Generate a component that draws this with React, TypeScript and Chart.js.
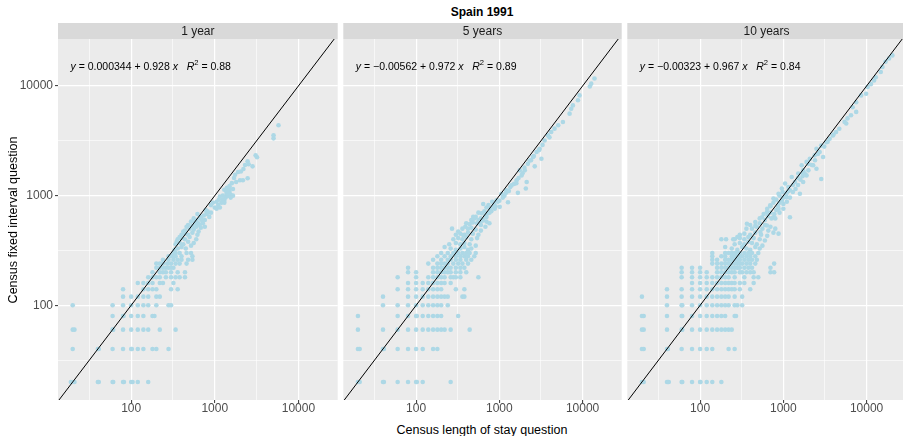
import React, { useEffect, useRef } from 'react';
import { Chart, registerables } from 'chart.js';

Chart.register(...registerables);

// ---------------- data ----------------
const PANEL_TITLES = ['1 year', '5 years', '10 years'];
const EQ_INTERCEPTS = ['0.000344', '\u22120.00562', '\u22120.00323'];
const EQ_SLOPES = ['0.928', '0.972', '0.967'];
const EQ_R2 = ['0.88', '0.89', '0.84'];

const MAJOR_TICKS = [100, 1000, 10000];
const MINOR_TICKS = [31.62, 316.2, 3162];
const X_RANGE = [13.34, 29500];
const Y_RANGE = [13.7, 26800];
const ABLINE = [10, 100000];

// rows: [y, xs at that y]
const ROWS_1Y: [number, number[]][] = [
  [20, [19, 20, 21, 40, 41, 60, 61, 80, 82, 100, 104, 120, 160]],
  [40, [20, 40, 41, 60, 80, 100, 102, 120, 140, 180, 200, 280]],
  [60, [20, 21, 60, 61, 80, 100, 120, 140, 160, 220, 340]],
  [80, [60, 80, 81, 100, 120, 140, 180, 190]],
  [100, [20, 60, 80, 100, 120, 140, 160, 200, 280, 300]],
  [120, [80, 100, 120, 140, 160, 200, 220]],
  [140, [80, 140, 160, 180, 200, 300, 360]],
  [160, [120, 140, 160, 180, 220, 240, 320]],
  [180, [160, 180, 200, 220, 260, 300, 340, 380, 440]],
  [200, [180, 220, 240, 260, 300, 360, 440]],
  [220, [200, 220, 240, 260, 280, 300, 320]],
  [240, [200, 220, 240, 270, 300, 340, 380, 460]],
  [260, [240, 280, 320, 360, 400, 480, 540]],
  [280, [280, 300, 320, 340, 400, 540]],
  [300, [320, 340, 380, 460, 520]],
];
const CLOUD_1Y: [number, number][] = [
  [330, 320], [360, 330], [400, 340], [450, 330], [520, 350], [340, 360], [380, 370], [420, 360],
  [480, 380], [560, 370], [360, 400], [400, 410], [440, 400], [500, 420], [600, 400], [400, 440],
  [440, 450], [480, 440], [540, 460], [620, 440], [440, 480], [500, 500], [560, 490], [640, 470],
  [480, 540], [540, 530], [600, 520], [680, 510], [520, 580], [580, 570], [640, 560], [720, 560],
  [600, 600], [660, 620], [760, 600], [690, 640], [800, 700], [800, 680], [1000, 780], [1050, 760],
  [900, 700], [1100, 820], [1200, 860], [1150, 780], [1300, 900], [1350, 960], [1400, 1010], [1250, 920],
  [1500, 1080], [1300, 1130], [1550, 1020], [1400, 1180], [1380, 1060], [1500, 1220], [1500, 1150],
  [1600, 1300], [1650, 1150], [1800, 1330], [1900, 1640], [2050, 1660], [2000, 1380], [2170, 1380],
  [2470, 1440], [2470, 2060], [2540, 1930], [2830, 1850], [3080, 2330], [3200, 2240], [5040, 3550],
  [5040, 3330], [5780, 4380], [620, 680], [780, 740], [900, 820], [1050, 880], [1150, 980], [700, 600],
  [740, 660], [820, 720], [560, 620], [460, 520], [420, 470], [380, 420], [350, 380], [600, 560],
  [660, 540], [760, 520], [860, 640], [1300, 860], [1550, 960], [1650, 1000], [1120, 920], [1250, 1000],
  [1450, 1000], [1400, 1100], [1700, 1450], [1750, 1550], [2300, 1900], [2200, 1750], [950, 860],
];

const ROWS_5Y: [number, number[]][] = [
  [20, [20, 21, 40, 41, 60, 80, 100, 102, 120, 260]],
  [40, [20, 21, 40, 41, 60, 80, 100, 120, 160, 180]],
  [60, [20, 40, 60, 80, 100, 120, 140, 160, 180, 200, 220, 260, 440]],
  [80, [20, 60, 80, 100, 102, 120, 140, 160, 180, 200, 320]],
  [100, [40, 60, 80, 100, 120, 140, 160, 180, 200, 240]],
  [120, [40, 80, 100, 120, 140, 160, 180, 200, 220, 240, 360, 380]],
  [140, [60, 80, 100, 120, 140, 160, 180, 200, 300, 380]],
  [160, [80, 100, 120, 140, 160, 180, 200, 220, 260]],
  [180, [60, 100, 140, 160, 180, 200, 220, 260, 280, 300, 340, 560]],
  [200, [80, 100, 160, 180, 200, 220, 240, 260, 300, 340, 400]],
  [220, [80, 160, 180, 200, 220, 240, 260, 300, 340, 380]],
  [240, [140, 180, 200, 220, 240, 280, 320, 360, 420]],
  [260, [160, 200, 240, 260, 300, 340, 400, 460]],
  [280, [180, 220, 260, 300, 340, 380, 420, 500]],
  [300, [200, 240, 280, 300, 320, 360, 400, 440, 520]],
];
const CLOUD_5Y: [number, number][] = [
  [220, 340], [260, 330], [300, 320], [340, 330], [380, 340], [420, 320], [460, 330], [250, 360],
  [300, 370], [340, 360], [380, 370], [440, 360], [520, 350], [280, 400], [320, 410], [360, 400],
  [400, 420], [460, 400], [540, 410], [300, 440], [340, 450], [380, 440], [420, 460], [480, 450],
  [560, 440], [270, 500], [320, 470], [370, 435], [390, 520], [360, 500], [420, 500], [460, 510],
  [520, 490], [600, 480], [400, 560], [440, 550], [480, 570], [540, 560], [600, 540], [680, 520],
  [460, 600], [500, 620], [560, 600], [620, 590], [700, 580], [760, 560], [485, 640], [610, 690],
  [730, 690], [640, 840], [840, 790], [1010, 790], [925, 905], [1270, 870], [1060, 1040], [1670, 1060],
  [1220, 1120], [2080, 1160], [1400, 1240], [2130, 1330], [1610, 1380], [1850, 1530], [1760, 1700],
  [2020, 1700], [2660, 1850], [2310, 2090], [3200, 2170], [2540, 2250], [2800, 2500], [3050, 2680],
  [3500, 3180], [3840, 3540], [4200, 3800], [4600, 4080], [5100, 4380], [5800, 4690], [6980, 5590],
  [7300, 6200], [7650, 6650], [8800, 7400], [9200, 8200], [12200, 9900], [12700, 10500], [13900, 11700],
  [520, 640], [560, 700], [600, 620], [660, 720], [700, 780], [740, 820], [780, 760], [820, 880],
  [860, 840], [900, 800], [960, 880], [680, 660], [760, 700], [580, 560], [640, 600], [700, 640],
  [800, 720], [880, 760], [1000, 900], [1100, 960], [1150, 1000], [1200, 1060], [1300, 1100],
  [1350, 1200], [1500, 1280], [1600, 1300], [1700, 1450], [1900, 1600], [2000, 1800], [2200, 1950],
  [2400, 2100], [2600, 2300], [3000, 2600], [3300, 2900], [4000, 3400],
];

const ROWS_10Y: [number, number[]][] = [
  [20, [20, 21, 40, 41, 42, 60, 61, 80, 100, 101, 120, 140, 180]],
  [40, [20, 21, 40, 41, 60, 80, 100, 120, 140, 220, 260]],
  [60, [20, 21, 40, 60, 61, 80, 100, 120, 140, 160, 180, 200, 220, 240]],
  [80, [20, 21, 40, 60, 61, 80, 100, 120, 140, 160, 180, 200, 260, 270]],
  [100, [40, 60, 61, 80, 100, 120, 140, 160, 180, 200, 220, 260, 280, 320]],
  [120, [20, 40, 60, 80, 100, 120, 140, 160, 180, 200, 220, 260, 320]],
  [140, [40, 60, 80, 100, 120, 140, 160, 180, 200, 220, 240, 260, 300, 400]],
  [160, [80, 100, 120, 140, 160, 180, 200, 220, 240, 260, 300, 340, 440]],
  [180, [60, 80, 100, 120, 140, 160, 180, 200, 220, 260, 340, 440, 500]],
  [200, [60, 80, 100, 120, 160, 180, 200, 220, 240, 260, 300, 320, 360, 400, 440, 700, 775]],
  [220, [60, 80, 100, 160, 180, 200, 220, 240, 260, 280, 300, 340, 380, 420, 700]],
  [240, [140, 160, 180, 200, 220, 240, 260, 280, 300, 320, 360, 400, 460, 775]],
  [260, [140, 160, 200, 220, 240, 260, 280, 300, 340, 380, 420, 480]],
  [280, [140, 180, 200, 240, 260, 280, 300, 320, 360, 400, 460]],
  [300, [140, 200, 220, 240, 260, 280, 300, 340, 380, 420, 500]],
];
const CLOUD_10Y: [number, number][] = [
  [200, 340], [240, 330], [280, 320], [320, 340], [360, 330], [400, 320], [460, 340], [520, 330],
  [180, 400], [205, 400], [260, 360], [300, 370], [340, 360], [380, 380], [420, 370], [480, 360],
  [560, 350], [260, 400], [300, 410], [340, 400], [380, 420], [440, 410], [520, 400], [600, 390],
  [300, 440], [340, 450], [400, 440], [460, 460], [540, 440], [640, 430], [280, 420], [250, 400],
  [365, 555], [460, 575], [530, 465], [360, 500], [420, 500], [480, 520], [560, 500], [660, 480],
  [760, 460], [875, 450], [400, 540], [460, 530], [520, 560], [600, 540], [700, 520], [800, 500],
  [555, 635], [635, 710], [635, 535], [760, 635], [1200, 635], [695, 815], [760, 940], [875, 760],
  [875, 1040], [1000, 840], [1090, 970], [960, 1160], [1050, 1290], [1200, 1120], [1580, 1040],
  [1260, 1480], [1380, 1330], [1730, 1330], [1510, 1590], [1900, 1530], [2850, 1420], [1660, 1890],
  [1730, 1700], [2500, 1760], [1900, 2030], [2280, 1890], [2080, 2170], [2380, 2330], [3000, 2250],
  [2730, 2500], [2500, 2680], [2850, 2860], [3300, 3070], [3600, 3300], [3930, 3540], [4300, 3800],
  [4700, 4070], [5700, 4540], [5440, 4700], [5900, 5060], [6500, 5400], [7500, 5800], [6800, 6400],
  [7500, 7100], [8600, 8200], [9870, 8500], [10300, 9800], [11300, 10400], [12300, 11200],
  [12900, 12000], [14800, 13400], [15500, 14900], [16900, 16600], [18600, 17800], [20400, 19000],
  [600, 600], [650, 650], [700, 700], [720, 620], [780, 680], [820, 740], [860, 800], [900, 860],
  [960, 900], [1000, 960], [1060, 1000], [1100, 1060], [1150, 1100], [800, 620], [900, 700],
  [1000, 760], [1100, 880], [1200, 960], [1300, 1080], [1400, 1150], [1500, 1250], [1600, 1400],
  [1700, 1500], [1800, 1600], [2000, 1700], [2200, 1900], [2400, 2100], [1300, 1250], [1150, 1200],
  [520, 620], [580, 680], [640, 760], [700, 800], [760, 860], [820, 920], [900, 1000], [980, 1080],
  [1500, 1450], [1700, 1600], [2000, 1950], [2600, 2400], [3100, 2800], [3400, 3100], [4000, 3600],
];

const PANEL_ROWS = [ROWS_1Y, ROWS_5Y, ROWS_10Y];
const PANEL_CLOUDS = [CLOUD_1Y, CLOUD_5Y, CLOUD_10Y];

// ---------------- layout / style ----------------
const FONT = '"Liberation Sans", Arial, Helvetica, sans-serif';
const PANEL_LEFT = [58, 342, 626];
const PANEL_W = 281;
const PANEL_TOP = 39;
const PANEL_BOTTOM = 400;
const CANVAS_H = 422;
const STRIP_TOP = 23;

function buildPoints(i: number) {
  const pts: { x: number; y: number }[] = [];
  for (const [y, xs] of PANEL_ROWS[i]) for (const x of xs) pts.push({ x, y });
  for (const [x, y] of PANEL_CLOUDS[i]) pts.push({ x, y });
  return pts;
}

const ALL_TICKS = [...MINOR_TICKS, ...MAJOR_TICKS].sort((a, b) => a - b);
const isMajor = (v: number) => MAJOR_TICKS.some((m) => Math.abs(m - v) < 1e-6);

function drawEquation(ctx: CanvasRenderingContext2D, x0: number, y: number, i: number) {
  const size = 10.5;
  const reg = `${size}px ${FONT}`;
  const ita = `italic ${size}px ${FONT}`;
  const sup = `${(size * 0.72).toFixed(1)}px ${FONT}`;
  const pieces: { t: string; f: string; dy?: number }[] = [
    { t: 'y', f: ita },
    { t: ' = ' + EQ_INTERCEPTS[i] + ' + ' + EQ_SLOPES[i] + ' ', f: reg },
    { t: 'x', f: ita },
    { t: '   ', f: reg },
    { t: 'R', f: ita },
    { t: '2', f: sup, dy: -4 },
    { t: ' = ' + EQ_R2[i], f: reg },
  ];
  ctx.save();
  ctx.fillStyle = '#000000';
  ctx.textBaseline = 'middle';
  ctx.textAlign = 'left';
  let x = x0;
  for (const p of pieces) {
    ctx.font = p.f;
    ctx.fillText(p.t, x, y + (p.dy || 0));
    x += ctx.measureText(p.t).width;
  }
  ctx.restore();
}

function Panel({ index }: { index: number }) {
  const ref = useRef<HTMLCanvasElement | null>(null);
  const first = index === 0;
  const canvasLeft = first ? 0 : PANEL_LEFT[index] - 1;
  const canvasW = PANEL_LEFT[index] + PANEL_W + 1 - canvasLeft;

  useEffect(() => {
    if (!ref.current) return;
    const panelPlugin = {
      id: 'panelDeco' + index,
      beforeDraw(chart: any) {
        const { ctx, chartArea: a } = chart;
        ctx.save();
        ctx.fillStyle = '#EBEBEB';
        ctx.fillRect(a.left, a.top, a.right - a.left, a.bottom - a.top);
        ctx.fillStyle = '#D9D9D9';
        ctx.fillRect(a.left, STRIP_TOP, a.right - a.left, a.top - STRIP_TOP);
        ctx.fillStyle = '#1A1A1A';
        ctx.font = `12px ${FONT}`;
        ctx.textAlign = 'center';
        ctx.textBaseline = 'middle';
        ctx.fillText(PANEL_TITLES[index], (a.left + a.right) / 2, (STRIP_TOP + a.top) / 2 + 0.5);
        ctx.restore();
      },
      afterDatasetsDraw(chart: any) {
        const { ctx, chartArea: a } = chart;
        drawEquation(ctx, a.left + 12.5, 67, index);
      },
    };

    const gridCfg = (showTicks: boolean) => ({
      color: '#FFFFFF',
      lineWidth: (c: any) => (c.tick && isMajor(c.tick.value) ? 1.2 : 0.6),
      drawTicks: showTicks,
      tickLength: 3,
      tickWidth: 1,
      tickColor: (c: any) => (c.tick && isMajor(c.tick.value) ? '#333333' : 'rgba(0,0,0,0)'),
    });
    const setTicks = (scale: any) => {
      scale.ticks = ALL_TICKS.map((v) => ({ value: v }));
    };
    const label = (v: any) => (isMajor(Number(v)) ? String(Math.round(Number(v))) : '');

    const chart = new Chart(ref.current, {
      type: 'scatter',
      data: {
        datasets: [
          {
            type: 'line',
            data: ABLINE.map((v) => ({ x: v, y: v })),
            borderColor: '#000000',
            borderWidth: 1,
            pointRadius: 0,
            fill: false,
            order: 0,
          } as any,
          {
            data: buildPoints(index),
            backgroundColor: '#ADD8E6',
            borderWidth: 0,
            pointRadius: 2.3,
            pointHoverRadius: 2.3,
            order: 1,
          },
        ],
      },
      options: {
        animation: false,
        responsive: false,
        events: [],
        layout: {
          padding: { left: first ? 0 : 1, right: 1, top: PANEL_TOP, bottom: 0 },
        },
        plugins: { legend: { display: false }, tooltip: { enabled: false }, title: { display: false } },
        scales: {
          x: {
            type: 'logarithmic',
            min: X_RANGE[0],
            max: X_RANGE[1],
            afterBuildTicks: setTicks,
            afterFit: (s: any) => {
              s.height = CANVAS_H - PANEL_BOTTOM;
            },
            grid: gridCfg(true),
            border: { display: false },
            ticks: {
              callback: label,
              color: '#4D4D4D',
              font: { family: FONT, size: 12, lineHeight: 1 },
              padding: 0,
              maxRotation: 0,
              autoSkip: false,
            },
          },
          y: {
            type: 'logarithmic',
            min: Y_RANGE[0],
            max: Y_RANGE[1],
            afterBuildTicks: setTicks,
            afterFit: (s: any) => {
              s.width = first ? PANEL_LEFT[0] : 0;
            },
            grid: gridCfg(first),
            border: { display: false },
            ticks: {
              display: first,
              callback: label,
              color: '#4D4D4D',
              font: { family: FONT, size: 12, lineHeight: 1 },
              padding: 2,
              autoSkip: false,
            },
          },
        },
      },
      plugins: [panelPlugin],
    });
    return () => chart.destroy();
  }, [index]);

  return (
    <canvas
      ref={ref}
      width={canvasW}
      height={CANVAS_H}
      style={{ position: 'absolute', left: canvasLeft, top: 0, width: canvasW, height: CANVAS_H }}
    />
  );
}

export default function App() {
  return (
    <div
      style={{
        position: 'fixed',
        left: 0,
        top: 0,
        width: 903,
        height: 436,
        overflow: 'hidden',
        background: '#FFFFFF',
        fontFamily: FONT,
      }}
    >
      <div
        style={{
          position: 'absolute',
          left: 58,
          width: 848,
          top: 5,
          height: 14,
          lineHeight: '14px',
          textAlign: 'center',
          fontWeight: 'bold',
          fontSize: 12,
          color: '#000000',
        }}
      >
        Spain 1991
      </div>
      {[0, 1, 2].map((i) => (
        <Panel key={i} index={i} />
      ))}
      <div
        style={{
          position: 'absolute',
          left: 58,
          width: 848,
          top: 423,
          height: 14,
          lineHeight: '14px',
          textAlign: 'center',
          fontSize: 12.5,
          color: '#000000',
        }}
      >
        Census length of stay question
      </div>
      <div
        style={{
          position: 'absolute',
          left: -167,
          top: 213,
          width: 360,
          height: 14,
          lineHeight: '14px',
          textAlign: 'center',
          fontSize: 12.5,
          fontWeight: 400,
          color: '#000000',
          transform: 'rotate(-90deg)',
          transformOrigin: 'center center',
        }}
      >
        Census fixed interval question
      </div>
    </div>
  );
}
